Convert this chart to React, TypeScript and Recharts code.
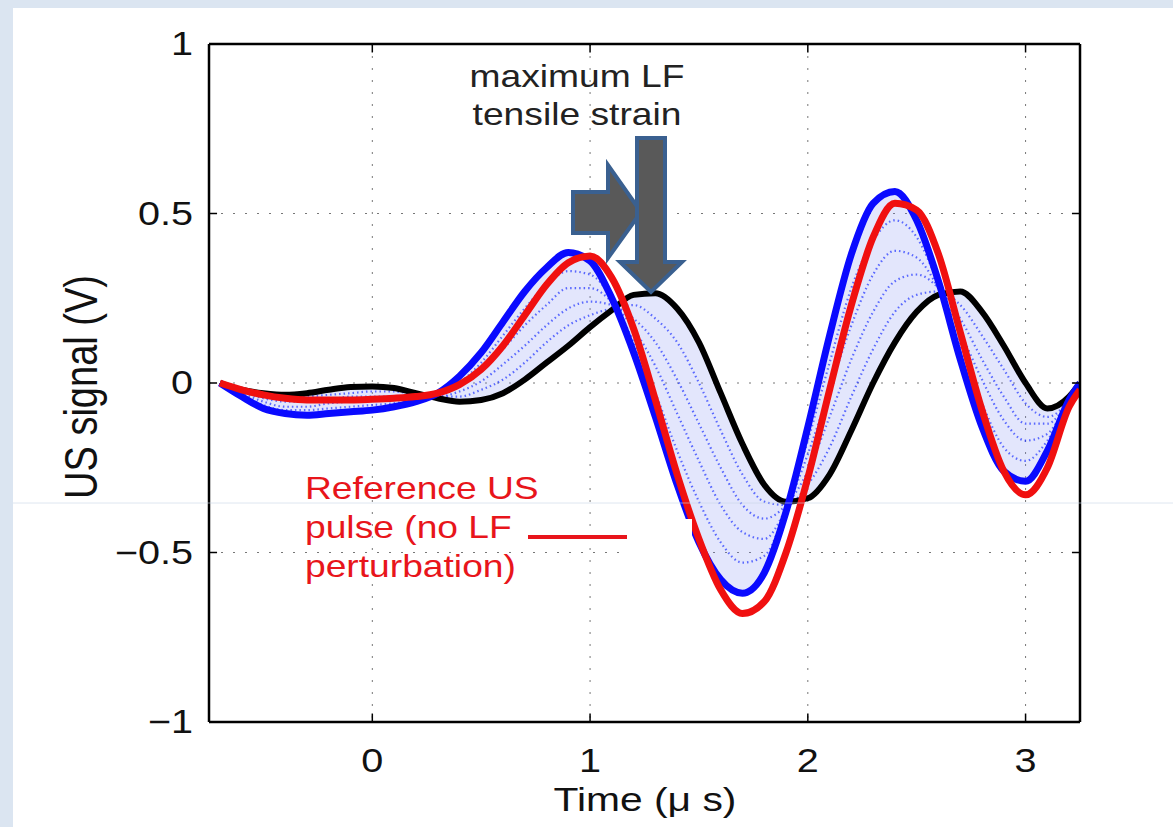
import { ComposedChart, Line, Area, XAxis, YAxis, CartesianGrid, ReferenceLine } from 'recharts'

// time axis (µs)
const time = [-0.7, -0.6, -0.5, -0.4, -0.3, -0.2, -0.1, 0, 0.1, 0.2, 0.3, 0.4, 0.5, 0.6, 0.7, 0.8, 0.9, 1.0, 1.1, 1.2, 1.3, 1.4, 1.5, 1.6, 1.7, 1.8, 1.9, 2.0, 2.1, 2.2, 2.3, 2.4, 2.5, 2.6, 2.7, 2.8, 2.9, 3.0, 3.1, 3.2, 3.25]

// reference pulse (no LF perturbation)
const refPulse = [0, -0.02, -0.035, -0.045, -0.05, -0.05, -0.05, -0.048, -0.045, -0.04, -0.03, -0.005, 0.04, 0.11, 0.2, 0.29, 0.355, 0.375, 0.31, 0.16, -0.05, -0.27, -0.46, -0.61, -0.68, -0.645, -0.5, -0.28, -0.02, 0.23, 0.43, 0.53, 0.51, 0.38, 0.15, -0.08, -0.26, -0.33, -0.25, -0.07, -0.02]
// max compressive (blue) and max tensile (black) pulses
const bluePulse = [0, -0.04, -0.075, -0.09, -0.095, -0.09, -0.085, -0.08, -0.07, -0.055, -0.03, 0.02, 0.09, 0.18, 0.27, 0.34, 0.385, 0.36, 0.25, 0.09, -0.1, -0.3, -0.47, -0.58, -0.62, -0.56, -0.38, -0.13, 0.14, 0.38, 0.53, 0.565, 0.48, 0.3, 0.07, -0.13, -0.26, -0.29, -0.2, -0.05, 0]
const blackPulse = [0, -0.02, -0.03, -0.035, -0.03, -0.02, -0.012, -0.01, -0.015, -0.03, -0.045, -0.055, -0.05, -0.03, 0.01, 0.06, 0.11, 0.165, 0.215, 0.26, 0.265, 0.22, 0.12, -0.03, -0.18, -0.3, -0.35, -0.34, -0.27, -0.14, 0.0, 0.12, 0.21, 0.26, 0.27, 0.21, 0.11, 0.0, -0.075, -0.04, 0]

// dotted intermediate pulses
const dot1 = [0, -0.035, -0.065, -0.08, -0.08, -0.075, -0.07, -0.065, -0.06, -0.05, -0.035, 0.0, 0.06, 0.14, 0.22, 0.29, 0.33, 0.32, 0.25, 0.12, -0.03, -0.2, -0.35, -0.47, -0.53, -0.51, -0.37, -0.17, 0.06, 0.28, 0.42, 0.48, 0.43, 0.29, 0.11, -0.06, -0.19, -0.23, -0.17, -0.05, 0]
const dot2 = [0, -0.03, -0.055, -0.07, -0.07, -0.06, -0.055, -0.05, -0.05, -0.045, -0.035, -0.01, 0.035, 0.1, 0.17, 0.23, 0.28, 0.28, 0.24, 0.16, 0.05, -0.09, -0.23, -0.36, -0.44, -0.46, -0.37, -0.21, -0.02, 0.17, 0.32, 0.39, 0.37, 0.28, 0.15, 0.01, -0.11, -0.17, -0.15, -0.05, 0]
const dot3 = [0, -0.025, -0.045, -0.055, -0.055, -0.05, -0.04, -0.04, -0.04, -0.04, -0.04, -0.025, 0.005, 0.055, 0.11, 0.17, 0.22, 0.24, 0.23, 0.19, 0.12, 0.01, -0.12, -0.25, -0.36, -0.4, -0.36, -0.26, -0.1, 0.07, 0.21, 0.3, 0.32, 0.28, 0.19, 0.07, -0.04, -0.12, -0.12, -0.05, 0]
const dot4 = [0, -0.02, -0.04, -0.045, -0.04, -0.035, -0.03, -0.025, -0.025, -0.035, -0.04, -0.04, -0.02, 0.01, 0.06, 0.12, 0.17, 0.2, 0.22, 0.23, 0.19, 0.12, 0.0, -0.14, -0.27, -0.35, -0.36, -0.3, -0.19, -0.04, 0.1, 0.21, 0.26, 0.27, 0.23, 0.14, 0.04, -0.06, -0.1, -0.05, 0]

const xTicks = [0, 1, 2, 3]
const yTicks = [-1, -0.5, 0, 0.5, 1]

const data = time.map((t, i) => ({
  t,
  ref: refPulse[i],
  blue: bluePulse[i],
  black: blackPulse[i],
  band: [blackPulse[i], bluePulse[i]],
  d1: dot1[i],
  d2: dot2[i],
  d3: dot3[i],
  d4: dot4[i],
}))

const FONT = '"Liberation Sans", Arial, sans-serif'
const SX = 1.2

const fmt = (v: number) => String(v).replace('-', '\u2212')

const YTick = (props: any) => {
  const { x, y, payload } = props
  return (
    <text transform={`translate(${x - 8},${y}) scale(${SX},1)`} textAnchor="end" dominantBaseline="central" fontSize={33} fontFamily={FONT} fill="#111">
      {fmt(payload.value)}
    </text>
  )
}

const XTick = (props: any) => {
  const { x, y, payload } = props
  return (
    <text transform={`translate(${x},${y + 42}) scale(${SX},1)`} textAnchor="middle" fontSize={33} fontFamily={FONT} fill="#111">
      {fmt(payload.value)}
    </text>
  )
}

export default function App() {
  const dotted = ['d1', 'd2', 'd3', 'd4']
  return (
    <div style={{ position: 'absolute', left: 0, top: 0, width: 1173, height: 827, background: '#dbe5f1', overflow: 'hidden' }}>
      <div style={{ position: 'absolute', left: 13, top: 8, right: 0, bottom: 0, background: '#fff' }} />
      <div style={{ position: 'absolute', left: 0, top: 0 }}>
        <ComposedChart width={1173} height={827} data={data} margin={{ top: 44, right: 93, left: 109, bottom: 45 }}>
          <CartesianGrid stroke="#777" strokeDasharray="2 10" />
          <XAxis type="number" dataKey="t" domain={[-0.75, 3.25]} ticks={xTicks} allowDataOverflow height={60}
            axisLine={{ stroke: '#000', strokeWidth: 2.5 }} tickLine={false} tick={<XTick />} />
          <YAxis type="number" domain={[-1, 1]} ticks={yTicks} allowDataOverflow width={100}
            axisLine={{ stroke: '#000', strokeWidth: 2.5 }} tickLine={false} tick={<YTick />} />
          <Area dataKey="band" type="monotone" stroke="none" fill="#7f8ff0" fillOpacity={0.22} isAnimationActive={false} />
          {dotted.map((k) => (
            <Line key={k} dataKey={k} type="monotone" stroke="#1f33ff" strokeWidth={2.2} strokeDasharray="1.5 3" strokeOpacity={0.7} dot={false} isAnimationActive={false} />
          ))}
          <Line dataKey="black" type="monotone" stroke="#000" strokeWidth={6} dot={false} isAnimationActive={false} />
          <Line dataKey="blue" type="monotone" stroke="#0a0aff" strokeWidth={7} dot={false} isAnimationActive={false} />
          <Line dataKey="ref" type="monotone" stroke="#f01010" strokeWidth={7} dot={false} isAnimationActive={false} />
          <ReferenceLine y={1} stroke="#000" strokeWidth={2.5} />
          <ReferenceLine x={3.25} stroke="#000" strokeWidth={2.5} />
          {xTicks.map((t) => (
            <ReferenceLine key={'xb' + t} segment={[{ x: t, y: -1 }, { x: t, y: -0.975 }]} stroke="#000" strokeWidth={1.5} />
          ))}
          {xTicks.map((t) => (
            <ReferenceLine key={'xt' + t} segment={[{ x: t, y: 1 }, { x: t, y: 0.975 }]} stroke="#000" strokeWidth={1.5} />
          ))}
          {yTicks.map((v) => (
            <ReferenceLine key={'yl' + v} segment={[{ x: -0.75, y: v }, { x: -0.713, y: v }]} stroke="#000" strokeWidth={1.5} />
          ))}
          {yTicks.map((v) => (
            <ReferenceLine key={'yr' + v} segment={[{ x: 3.25, y: v }, { x: 3.213, y: v }]} stroke="#000" strokeWidth={1.5} />
          ))}
        </ComposedChart>
      </div>
      <svg width={1173} height={827} style={{ position: 'absolute', left: 0, top: 0, pointerEvents: 'none' }}>
        <rect x={628} y={519} width={64} height={41} fill="#fff" />
        <text transform={`translate(645,811) scale(${SX},1)`} textAnchor="middle" fontSize={34} fontFamily={FONT} fill="#111">Time (μ s)</text>
        <text transform={`translate(97,387) scale(${SX},1) rotate(-90)`} textAnchor="middle" fontSize={38} fontFamily={FONT} fill="#111">US signal (V)</text>
        <text transform={`translate(577,87) scale(${SX},1)`} textAnchor="middle" fontSize={31} fontFamily={FONT} fill="#222">maximum LF</text>
        <text transform={`translate(577,125) scale(${SX},1)`} textAnchor="middle" fontSize={31} fontFamily={FONT} fill="#222">tensile strain</text>
        <g fontSize={31} fontFamily={FONT} fill="#e8151b">
          <text transform={`translate(305,499) scale(${SX},1)`}>Reference US</text>
          <text transform={`translate(305,538) scale(${SX},1)`}>pulse (no LF</text>
          <text transform={`translate(305,577) scale(${SX},1)`}>perturbation)</text>
        </g>
        <line x1={528} y1={537} x2={627} y2={537} stroke="#e8151b" strokeWidth={4} />
        <polygon points="573,192 608,192 608,165 641,212 608,258 608,233 573,233" fill="#595959" stroke="#3a6090" strokeWidth={4} />
        <polygon points="637,138 665,138 665,262 682,262 651,292 620,262 637,262" fill="#595959" stroke="#3a6090" strokeWidth={4} />
        <line x1={13} y1={503} x2={1173} y2={503} stroke="#c9d5e6" strokeWidth={1} strokeOpacity={0.6} />
      </svg>
    </div>
  )
}
